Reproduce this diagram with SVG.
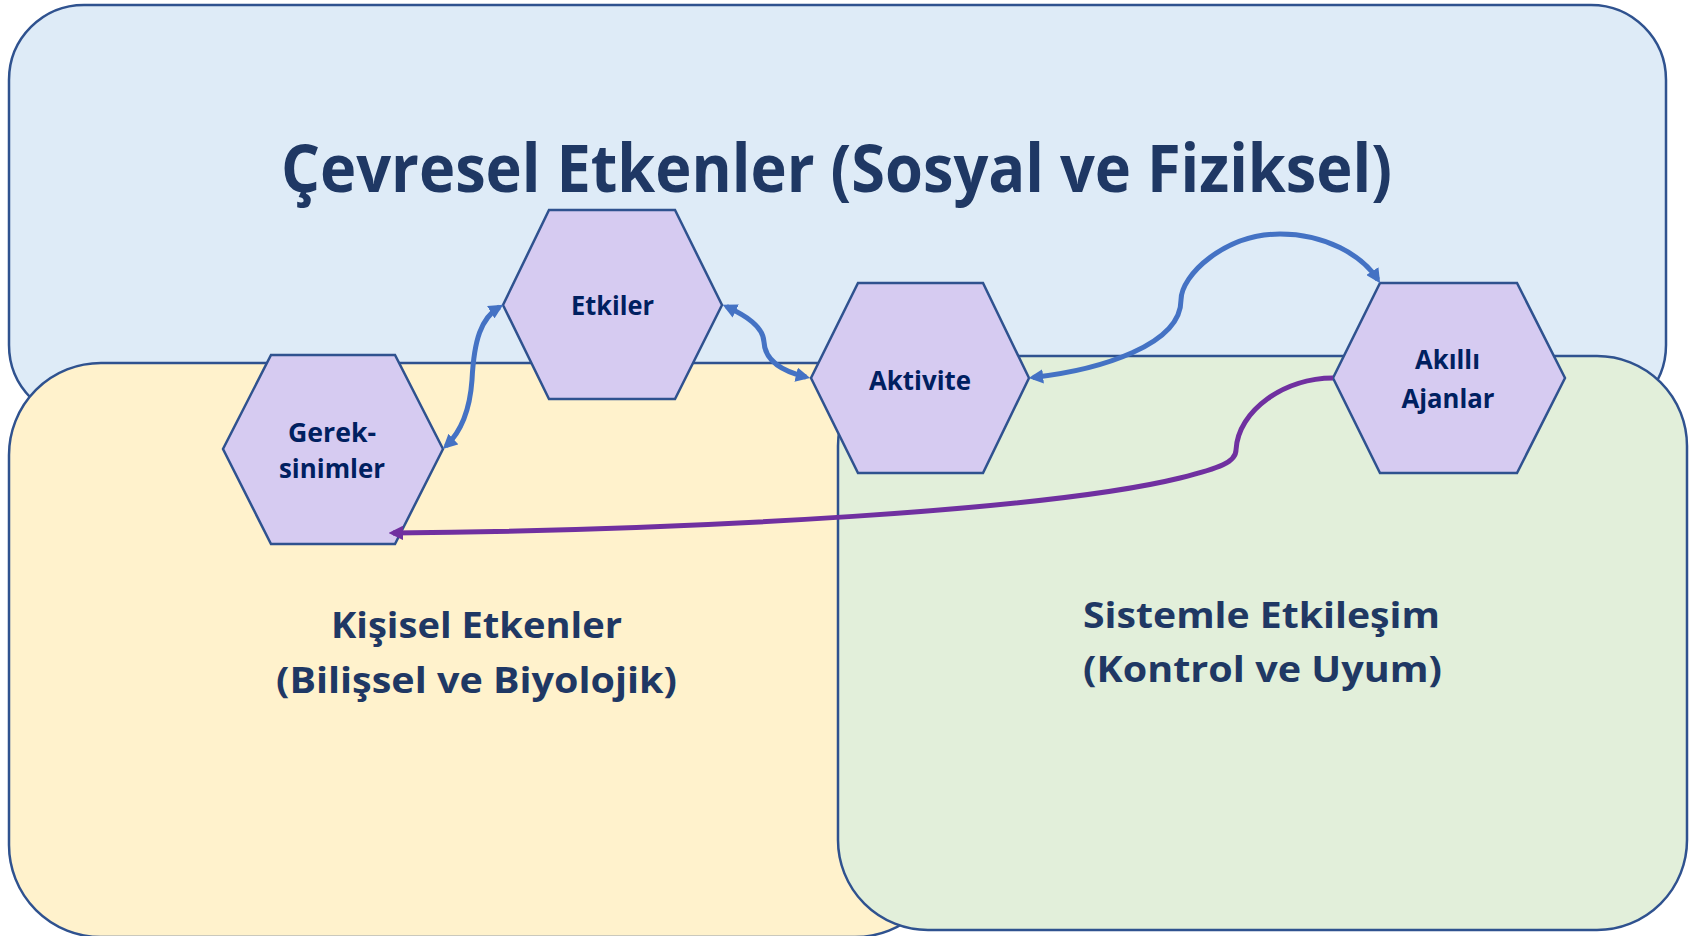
<svg xmlns="http://www.w3.org/2000/svg" width="1694" height="936" viewBox="0 0 1694 936">
<style>
.box{stroke:#2F528F;stroke-width:2.5}
.hex{fill:#D6CBF1;stroke:#2F528F;stroke-width:2.5;stroke-linejoin:miter}
.title{font-family:"Open Sans","Noto Sans",sans-serif;font-weight:700;fill:#1F3864;text-anchor:middle}
.lbl{font-family:"Open Sans","Noto Sans",sans-serif;font-weight:700;fill:#002060;text-anchor:middle;font-size:27px}
.conn{fill:none;stroke-width:5}
.blue{stroke:#4472C4}
.purple{stroke:#7030A0}
</style>
<defs>
<marker id="arrB" viewBox="0 0 10 10" refX="7" refY="5" markerWidth="2.9" markerHeight="2.9" orient="auto-start-reverse" markerUnits="strokeWidth">
<path d="M0,0 L10,5 L0,10 z" fill="#4472C4"/>
</marker>
<marker id="arrP" viewBox="0 0 10 10" refX="7" refY="5" markerWidth="2.9" markerHeight="2.9" orient="auto-start-reverse" markerUnits="strokeWidth">
<path d="M0,0 L10,5 L0,10 z" fill="#7030A0"/>
</marker>
</defs>

<g id="cevresel">
<rect class="box" x="9" y="5" width="1657" height="415" rx="75" ry="75" fill="#DEEBF7"/>
<text class="title" x="836.5" y="192" font-size="67" textLength="1111" lengthAdjust="spacingAndGlyphs">Çevresel Etkenler (Sosyal ve Fiziksel)</text>
</g>

<g id="kisisel">
<rect class="box" x="9" y="363" width="938" height="574" rx="92" ry="92" fill="#FFF2CC"/>
<text class="title" x="476.5" y="638" font-size="36" textLength="291" lengthAdjust="spacingAndGlyphs">Kişisel Etkenler</text>
<text class="title" x="476.5" y="693" font-size="36" textLength="401" lengthAdjust="spacingAndGlyphs">(Bilişsel ve Biyolojik)</text>
</g>

<g id="sistemle">
<rect class="box" x="838" y="356" width="849" height="574" rx="90" ry="90" fill="#E2EFDA"/>
<text class="title" x="1261.5" y="628" font-size="36" textLength="357" lengthAdjust="spacingAndGlyphs">Sistemle Etkileşim</text>
<text class="title" x="1262.5" y="682" font-size="36" textLength="359" lengthAdjust="spacingAndGlyphs">(Kontrol ve Uyum)</text>
</g>

<g id="etkiler">
<polygon class="hex" points="549,210 675,210 722,305 675,399 549,399 503,305"/>
<text class="lbl" x="612.5" y="315" textLength="83" lengthAdjust="spacingAndGlyphs">Etkiler</text>
</g>

<g id="gereksinimler">
<polygon class="hex" points="271,355 395,355 443,449 395,544 271,544 223,449"/>
<text class="lbl" x="332" y="442" textLength="88" lengthAdjust="spacingAndGlyphs">Gerek-</text>
<text class="lbl" x="332" y="478" textLength="106" lengthAdjust="spacingAndGlyphs">sinimler</text>
</g>

<g id="aktivite">
<polygon class="hex" points="858,283 983,283 1029,378 983,473 858,473 811,378"/>
<text class="lbl" x="920" y="390" textLength="102" lengthAdjust="spacingAndGlyphs">Aktivite</text>
</g>

<g id="akilli-ajanlar">
<polygon class="hex" points="1380,283 1517,283 1565,378 1517,473 1380,473 1333,378"/>
<text class="lbl" x="1447.5" y="369" textLength="65" lengthAdjust="spacingAndGlyphs">Akıllı</text>
<text class="lbl" x="1448" y="408" textLength="93" lengthAdjust="spacingAndGlyphs">Ajanlar</text>
</g>

<g id="connectors">
<path class="conn blue" d="M446,446 C463,430 470,408 472,380 C474,340 481,318 499.5,307" marker-start="url(#arrB)" marker-end="url(#arrB)"/>
<path class="conn blue" d="M726.6,306.6 C746,316 763,326 764,342 C765,362 785,372 806,377" marker-start="url(#arrB)" marker-end="url(#arrB)"/>
<path class="conn blue" d="M1033,377.5 C1100,370 1181,345 1181,300 C1181,275 1225,234 1280,234 C1325,234 1362,255 1377.8,279.6" marker-start="url(#arrB)" marker-end="url(#arrB)"/>
<path class="conn purple" d="M1333,378 C1285,378 1238,410 1236,450 C1236,462 1220,468 1180,478 C1050,510 700,530 393,533" marker-end="url(#arrP)"/>
</g>
</svg>
